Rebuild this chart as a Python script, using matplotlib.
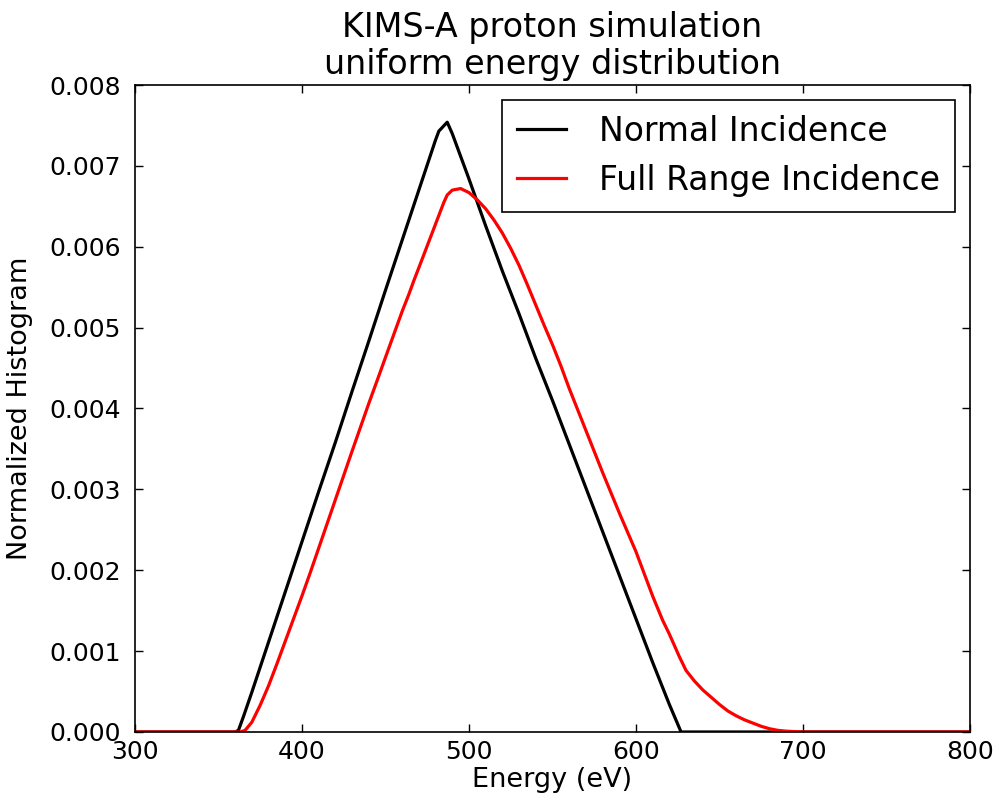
import matplotlib
matplotlib.use('Agg')
import matplotlib.pyplot as plt

# energy grid (eV) and normalized histogram values
energy_normal = [300, 360, 362, 365, 370, 380, 390, 400, 410, 420, 430, 440, 450,
                 460, 470, 480, 482, 487, 490, 500, 510, 520, 530, 540, 550, 560,
                 570, 580, 590, 600, 610, 620, 627, 640, 800]
hist_normal = [0, 0, 0.00002, 0.00019, 0.00049, 0.00111, 0.00173, 0.00235, 0.00297,
               0.00358, 0.00421, 0.00483, 0.00546, 0.00608, 0.00670, 0.00732,
               0.00743, 0.00754, 0.00740, 0.00684, 0.00626, 0.00570, 0.00517,
               0.00462, 0.00410, 0.00356, 0.00302, 0.00248, 0.00194, 0.00140,
               0.00086, 0.00034, 0, 0, 0]

energy_full = [300, 363, 366, 370, 375, 380, 385, 390, 395, 400, 405, 410, 415, 420,
               430, 440, 446, 450, 460, 464, 467, 470, 480, 485, 487, 490, 495, 500,
               505, 510, 515, 520, 525, 530, 535, 540, 545, 550, 555, 560, 570, 580,
               590, 600, 610, 616, 620, 626, 630, 635, 640, 645, 650, 655, 660, 665,
               670, 675, 680, 685, 690, 700, 800]
hist_full = [0, 0, 0.00002, 0.00012, 0.00033, 0.00057, 0.00084, 0.00112, 0.00140,
             0.00168, 0.00197, 0.00227, 0.00257, 0.00287, 0.00347, 0.00406, 0.00440,
             0.00463, 0.00520, 0.00541, 0.00558, 0.00574, 0.00628, 0.00655, 0.00664,
             0.00670, 0.00672, 0.00667, 0.00658, 0.00647, 0.00633, 0.00617, 0.00598,
             0.00577, 0.00553, 0.00528, 0.00503, 0.00479, 0.00453, 0.00425, 0.00373,
             0.00321, 0.00271, 0.00223, 0.00168, 0.00138, 0.00121, 0.00093, 0.00076,
             0.00063, 0.00052, 0.00043, 0.00034, 0.00026, 0.00020, 0.00015, 0.00011,
             0.00007, 0.00004, 0.00002, 0.00001, 0, 0]

fig = plt.figure(figsize=(9.99, 8.02), dpi=100)
ax = fig.add_axes([0.135, 0.0873, 0.836, 0.8067])

ax.plot(energy_normal, hist_normal, color='black', linewidth=2.3, label='Normal Incidence')
ax.plot(energy_full, hist_full, color='red', linewidth=2.3, label='Full Range Incidence')

ax.set_xlim(300, 800)
ax.set_ylim(0, 0.008)
ax.set_xticks([300, 400, 500, 600, 700, 800])
ax.set_yticks([0.000, 0.001, 0.002, 0.003, 0.004, 0.005, 0.006, 0.007, 0.008])
ax.set_yticklabels(['0.000', '0.001', '0.002', '0.003', '0.004', '0.005',
                    '0.006', '0.007', '0.008'])

ax.tick_params(direction='in', top=True, right=True, length=6, width=1,
               labelsize=18)
ax.tick_params(axis='x', pad=6)
ax.tick_params(axis='y', pad=10)
for s in ax.spines.values():
    s.set_linewidth(1.2)

ax.set_xlabel('Energy (eV)', fontsize=19.5, labelpad=2)
ax.set_ylabel('Normalized Histogram', fontsize=19.5, labelpad=12)
ax.set_title('KIMS-A proton simulation\nuniform energy distribution', fontsize=24,
             pad=8, linespacing=1.15)

leg = ax.legend(loc='upper right', fontsize=23.8, frameon=True, fancybox=False,
                edgecolor='black', handlelength=1.5, handletextpad=1.0,
                labelspacing=0.48, borderpad=0.45, borderaxespad=0.45)
leg.get_frame().set_linewidth(1.2)
leg.get_frame().set_alpha(1)

fig.savefig('out.png', dpi=100)
